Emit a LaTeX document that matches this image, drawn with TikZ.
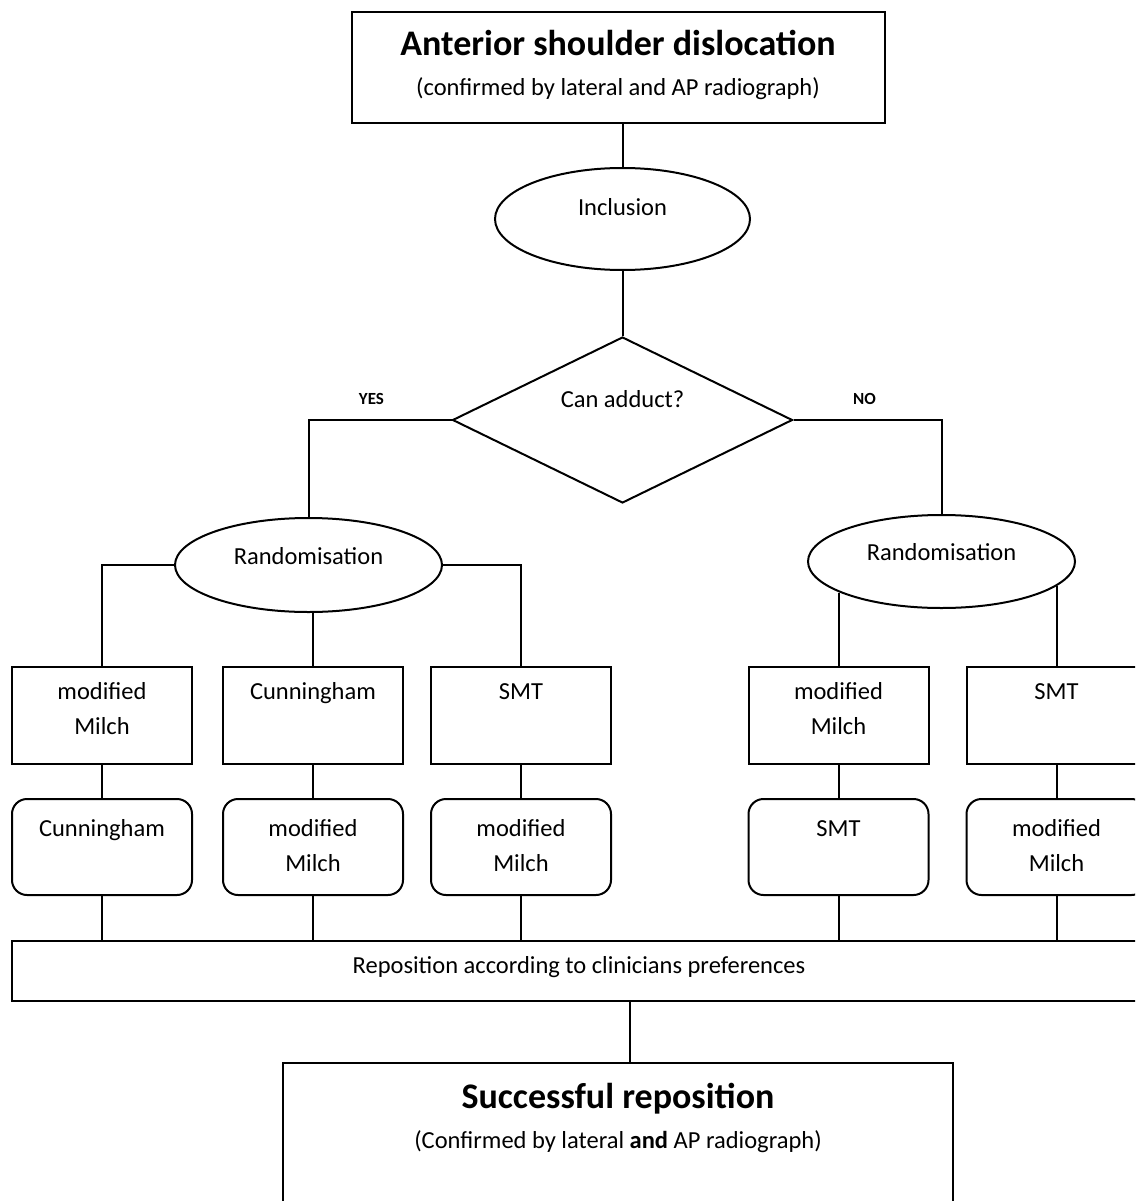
\documentclass[tikz,border=0pt]{standalone}
\usepackage{fontspec}
\setmainfont{Carlito}
\usetikzlibrary{positioning,shapes.geometric}
\newcommand\heading[1]{{\fontsize{36}{40}\selectfont\bfseries #1}}

\begin{document}
\begin{tikzpicture}[x=1pt,y=1pt,line width=2pt,
	font=\fontsize{24.5}{35}\selectfont,
	head/.style={rectangle,draw,align=center,minimum width=533pt,minimum height=111pt,
		font=\fontsize{24.5}{40}\selectfont,text height=65pt,text depth=8pt},
	oval/.style={ellipse,draw,text height=16pt,text depth=18pt},
	decision/.style={diamond,draw,aspect=2,inner sep=0pt,minimum width=340pt,
		minimum height=166pt,text height=16pt,text depth=42pt},
	arm/.style={rectangle,draw,align=center,minimum width=180pt,minimum height=97pt,
		text height=16pt,text depth=49pt},
	arm2/.style={arm,text height=51pt,text depth=14pt},
	swap/.style={rectangle,draw,rounded corners=15pt,align=center,minimum width=180pt,
		minimum height=96pt,text height=16pt,text depth=38pt},
	swap2/.style={swap,text height=51pt,text depth=3pt},
	wide/.style={rectangle,draw,minimum width=1134pt,minimum height=60pt,
		text height=16pt,text depth=12pt},
	answer/.style={font=\fontsize{17}{20}\selectfont\bfseries,inner sep=0pt}]
	\useasboundingbox (0,0) rectangle (1135,-1201);
	\clip (0,0) rectangle (1135,-1201);

	\node[head] (top) at (618,-67.5) {\heading{Anterior shoulder dislocation}\\(confirmed by lateral and AP radiograph)};
	\node[oval,text depth=24pt,minimum width=255pt,minimum height=102pt,below=43pt of top,xshift=4.5pt] (incl) {Inclusion};
	\node[decision,below=65pt of incl] (adduct) {Can adduct?};
	\node[oval,minimum width=267pt,minimum height=94pt] (lrand) at (308.5,-565) {Randomisation};
	\node[oval,minimum width=267pt,minimum height=93pt] (rrand) at (941.5,-561.5) {Randomisation};

	\node[arm2] (armA) at (102,-715.5) {modified\\Milch};
	\node[arm,right=29pt of armA] (armB) {Cunningham};
	\node[arm,right=26pt of armB] (armC) {SMT};
	\node[arm2] (armD) at (838.5,-715.5) {modified\\Milch};
	\node[arm,right=36pt of armD] (armE) {SMT};

	\node[swap,below=33pt of armA] (seqA) {Cunningham};
	\node[swap2,below=33pt of armB] (seqB) {modified\\Milch};
	\node[swap2,below=33pt of armC] (seqC) {modified\\Milch};
	\node[swap,below=33pt of armD] (seqD) {SMT};
	\node[swap2,below=33pt of armE] (seqE) {modified\\Milch};

	\node[wide] (repo) at (579,-971) {Reposition according to clinicians preferences};
	\node[head,minimum width=670pt,minimum height=200pt,text height=65pt,text depth=95pt,below=60pt of repo,xshift=39pt] (done) {\heading{Successful reposition}\\(Confirmed by lateral \textbf{and} AP radiograph)};

	\draw (top.south -| incl.north) -- (incl.north);
	\draw (incl) -- (adduct);
	\draw (adduct.west) -| node[answer,pos=0.28,above=14pt] (yes) {YES} (lrand.north);
	\draw (adduct.east) -| node[answer,pos=0.24,above=14pt] (no) {NO} (rrand.north);
	\draw (lrand.west) -| (armA.north);
	\draw (lrand.south -| armB.north) -- (armB.north);
	\draw (lrand.east) -| (armC.north);
	\draw (rrand.197 -| armD.north) -- (armD.north);
	\draw (rrand.348 -| armE.north) -- (armE.north);
	\foreach \c in {A,B,C,D,E} {
		\draw (arm\c) -- (seq\c);
		\draw (seq\c.south) -- (seq\c.south |- repo.north);
	}
	\draw ([xshift=12pt]done.north) -- ([xshift=12pt]done.north |- repo.south);
\end{tikzpicture}
\end{document}
